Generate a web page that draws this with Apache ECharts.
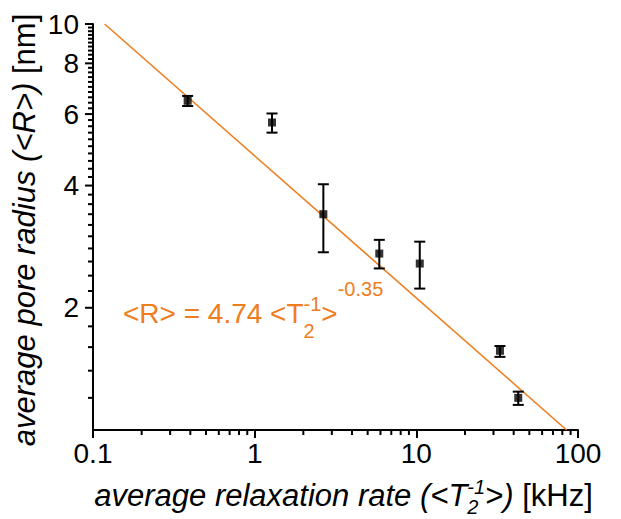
<!DOCTYPE html>
<html>
<head>
<meta charset="utf-8">
<script src="https://cdn.jsdelivr.net/npm/echarts@6/dist/echarts.min.js"></script>
<style>html,body{margin:0;padding:0;background:#fff}#c{width:621px;height:519px}</style>
</head>
<body>
<div id="c"></div>
<script>
// ---- data ----
const rateX   = [0.385, 1.28, 2.66, 5.9, 10.5, 32.9, 42.7];      // <T2^-1> [kHz]
const radiusY = [6.47, 5.72, 3.40, 2.72, 2.57, 1.567, 1.20];     // <R> [nm]
const errLow  = [6.28, 5.40, 2.74, 2.50, 2.23, 1.514, 1.153];
const errHigh = [6.65, 6.02, 4.03, 2.94, 2.91, 1.61, 1.243];
const fitX = [0.118, 85];
const fitY = [10, 1];
const xTickLabels = [0.1, 1, 10, 100];
const xMinorTicks = [0.2,0.3,0.4,0.5,0.6,0.7,0.8,0.9,2,3,4,5,6,7,8,9,20,30,40,50,60,70,80,90];
const yTickLabels = [2, 4, 6, 8, 10];
const yMinorTicks = [1.2,1.4,1.6,1.8,2.2,2.4,2.6,2.8,3,3.2,3.4,3.6,3.8,4.2,4.4,4.6,4.8,5,5.2,5.4,5.6,5.8,
                     6.2,6.4,6.6,6.8,7,7.2,7.4,7.6,7.8,8.2,8.4,8.6,8.8,9,9.2,9.4,9.6,9.8];
const X_MIN = 0.1, X_MAX = 100, Y_MIN = 1, Y_MAX = 10;

const ORANGE = '#EE7D1E';
const FONT = '"Liberation Sans", Arial, sans-serif';

// ---- text layout helper (sub/superscripts) ----
const mctx = document.createElement('canvas').getContext('2d');
function measure(t, size, italic) {
  mctx.font = (italic ? 'italic ' : '') + size + 'px "Liberation Sans"';
  return mctx.measureText(t).width;
}
function layoutRun(pieces, color) {
  let x = 0, prevStart = 0;
  const children = [];
  pieces.forEach(p => {
    const w = measure(p.t, p.size, p.italic);
    const sx = p.stack ? prevStart : x;
    children.push({
      type: 'text', x: sx, y: (p.dy || 0) - 0.35 * p.size,
      style: { text: p.t, fontSize: p.size, fontFamily: FONT, fontStyle: p.italic ? 'italic' : 'normal',
               fill: color, align: 'left', verticalAlign: 'middle' }
    });
    x = p.stack ? Math.max(x, sx + w) : sx + w;
    prevStart = sx;
  });
  return { children, width: x };
}

const yTitle = layoutRun([
  { t: 'average pore radius (<R>)', size: 31, italic: true },
  { t: ' [nm]', size: 31 }
], '#000');
const xTitle = layoutRun([
  { t: 'average relaxation rate (<T', size: 31, italic: true },
  { t: '-1', size: 20, italic: true, dy: -12 },
  { t: '2', size: 20, italic: true, dy: 8, stack: true },
  { t: '>)', size: 31, italic: true },
  { t: ' [kHz]', size: 31 }
], '#000');
const eq = layoutRun([
  { t: '<R> = 4.74 <T', size: 28 },
  { t: '-1', size: 20, dy: -12 },
  { t: '2', size: 20, dy: 15, stack: true },
  { t: '>', size: 28 },
  { t: '-0.35', size: 20, dy: -27 }
], ORANGE);

function labelSeries(values, isX) {
  return {
    type: 'custom', silent: true, clip: false, z: 3,
    data: values.map(v => isX ? [v, Y_MIN] : [X_MIN, v]),
    renderItem(params, api) {
      const v = isX ? api.value(0) : api.value(1);
      const p = api.coord([api.value(0), api.value(1)]);
      return {
        type: 'text',
        x: isX ? p[0] : p[0] - 14,
        y: isX ? p[1] + 23 : p[1],
        style: { text: String(v), fontSize: 28, fontFamily: FONT, fill: '#000',
                 align: isX ? 'center' : 'right', verticalAlign: 'middle' }
      };
    }
  };
}

const chart = echarts.init(document.getElementById('c'), null, { renderer: 'svg' });

chart.setOption({
  animation: false,
  grid: { left: 93, right: 43, top: 24, bottom: 89 },
  xAxis: {
    type: 'log', logBase: 10, min: X_MIN, max: X_MAX,
    axisLine: { show: true, onZero: false, lineStyle: { color: '#000', width: 2 } },
    axisTick: { show: true, inside: false, length: 8, lineStyle: { color: '#000', width: 2 } },
    axisLabel: { show: false },
    splitLine: { show: false }, minorTick: { show: false }, minorSplitLine: { show: false }
  },
  yAxis: {
    type: 'log', logBase: 10, min: Y_MIN, max: Y_MAX,
    axisLine: { show: true, onZero: false, lineStyle: { color: '#000', width: 2 } },
    axisTick: { show: false }, axisLabel: { show: false },
    splitLine: { show: false }, minorTick: { show: false }, minorSplitLine: { show: false }
  },
  series: [
    {
      type: 'line', data: fitX.map((x, i) => [x, fitY[i]]), symbol: 'none', z: 2,
      lineStyle: { color: ORANGE, width: 1.6 }, silent: true
    },
    {
      type: 'custom', z: 4,
      data: rateX.map((x, i) => [x, errLow[i], errHigh[i]]),
      encode: { x: 0, y: [1, 2] },
      renderItem(params, api) {
        const lo = api.coord([api.value(0), api.value(1)]);
        const hi = api.coord([api.value(0), api.value(2)]);
        const hw = 5.5, st = { stroke: '#000', lineWidth: 2 };
        return { type: 'group', children: [
          { type: 'line', shape: { x1: lo[0], y1: lo[1], x2: hi[0], y2: hi[1] }, style: st },
          { type: 'line', shape: { x1: lo[0] - hw, y1: lo[1], x2: lo[0] + hw, y2: lo[1] }, style: st },
          { type: 'line', shape: { x1: hi[0] - hw, y1: hi[1], x2: hi[0] + hw, y2: hi[1] }, style: st }
        ]};
      }
    },
    {
      type: 'scatter', z: 5, symbol: 'rect', symbolSize: [8, 8],
      itemStyle: { color: '#000' },
      data: rateX.map((x, i) => [x, radiusY[i]])
    },
    labelSeries(xTickLabels, true),
    labelSeries(yTickLabels, false)
  ]
});

// ---- remaining axis ticks, positioned through the axes' own scales ----
const tickEls = [];
function addTicks(values, isX, len, w) {
  values.forEach(v => {
    const p = chart.convertToPixel({ gridIndex: 0 }, isX ? [v, Y_MIN] : [X_MIN, v]);
    tickEls.push({
      type: 'rect',
      shape: isX ? { x: p[0] - w / 2, y: p[1], width: w, height: len }
                 : { x: p[0] - len, y: p[1] - w / 2, width: len, height: w },
      style: { fill: '#000' }
    });
  });
}
addTicks(xMinorTicks, true, 5, 2);
addTicks(yTickLabels, false, 8, 2);
addTicks(yMinorTicks, false, 5, 2);

chart.setOption({
  graphic: tickEls.concat([
    { type: 'group', x: 35, y: 230 + yTitle.width / 2, rotation: Math.PI / 2, children: yTitle.children },
    { type: 'group', x: 343.5 - xTitle.width / 2, y: 506, children: xTitle.children },
    { type: 'group', x: 123, y: 323, children: eq.children }
  ])
});
</script>
</body>
</html>
